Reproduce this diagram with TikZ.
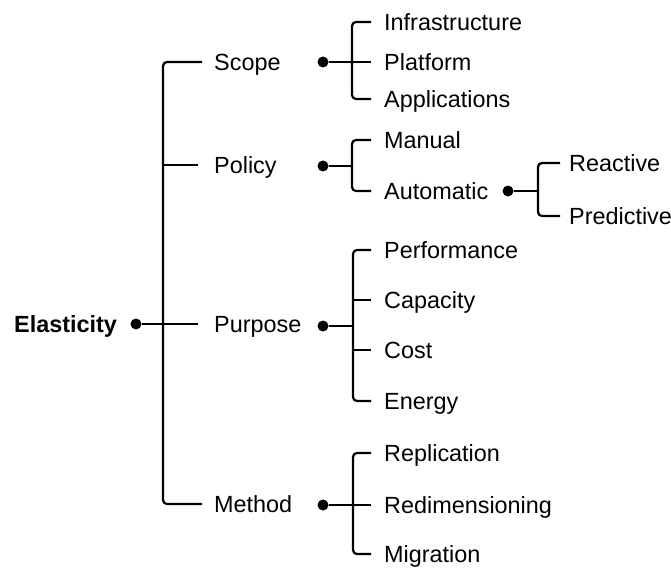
\documentclass[tikz,border=0pt]{standalone}
\usepackage{fontspec}
\setmainfont{Liberation Sans}
\begin{document}
\begin{tikzpicture}[x=1bp,y=-1bp,
  br/.style={line width=2.2bp, rounded corners=4bp, black},
  lab/.style={anchor=west, inner xsep=12bp, inner ysep=0pt, text height=16.8bp, text depth=0pt, font=\fontsize{23.4bp}{27bp}\selectfont},
  leaf/.style={lab, inner xsep=13bp},
  leafb/.style={lab, inner xsep=9bp},
  dotn/.style={circle, fill=black, inner sep=0pt, minimum size=11bp}]
\useasboundingbox (0,0) rectangle (671,570);
% root
\node[lab, inner xsep=0pt, font=\fontsize{23.4bp}{27bp}\selectfont\bfseries] (elas) at (14,324) {Elasticity};
\node[dotn] (root) at (136,324) {};
% level 1
\node[lab] (scope) at (202,62) {Scope};
\node[lab, inner xsep=16bp] (policy) at (198,165) {Policy};
\node[lab, inner xsep=16bp] (purpose) at (198,324) {Purpose};
\node[lab] (method) at (202,504) {Method};
\coordinate (mb) at (163,324);
\draw[br] (scope.west) -| (mb) |- (method.west);
\draw[br] (policy.west) -- (policy.west -| mb);
\draw[br] (root) -- (purpose.west);
% level 2 dots
\node[dotn] (ds) at (323,62) {};
\node[dotn] (dp) at (323,166) {};
\node[dotn] (dq) at (323,326) {};
\node[dotn] (dm) at (323,505) {};
% scope leaves
\node[leaf] (inf) at (371,22) {Infrastructure};
\node[leaf] (plat) at (371,62) {Platform};
\node[leaf] (app) at (371,99) {Applications};
\coordinate (sb) at (352,62);
\draw[br] (inf.west) -| (sb) |- (app.west);
\draw[br] (ds) -- (plat.west);
% policy leaves
\node[leaf] (man) at (371,140) {Manual};
\node[leaf] (auto) at (371,191) {Automatic};
\coordinate (pb) at (352,166);
\draw[br] (man.west) -| (pb) |- (auto.west);
\draw[br] (dp) -- (pb);
% automatic leaves
\node[dotn] (da) at (508,191) {};
\node[leafb] (rea) at (560,163) {Reactive};
\node[leafb] (pre) at (560,216) {Predictive};
\coordinate (ab) at (538,191);
\draw[br] (rea.west) -| (ab) |- (pre.west);
\draw[br] (da) -- (ab);
% purpose leaves
\node[leaf] (perf) at (371,250) {Performance};
\node[leaf] (capa) at (371,300) {Capacity};
\node[leaf] (cost) at (371,350) {Cost};
\node[leaf] (ener) at (371,401) {Energy};
\coordinate (qb) at (353,326);
\draw[br] (perf.west) -| (qb) |- (ener.west);
\draw[br] (capa.west) -- (capa.west -| qb);
\draw[br] (cost.west) -- (cost.west -| qb);
\draw[br] (dq) -- (qb);
% method leaves
\node[leaf] (repl) at (371,453) {Replication};
\node[leaf] (redim) at (371,505) {Redimensioning};
\node[leaf] (migr) at (371,554) {Migration};
\coordinate (mmb) at (353,505);
\draw[br] (repl.west) -| (mmb) |- (migr.west);
\draw[br] (dm) -- (redim.west);
\end{tikzpicture}
\end{document}
